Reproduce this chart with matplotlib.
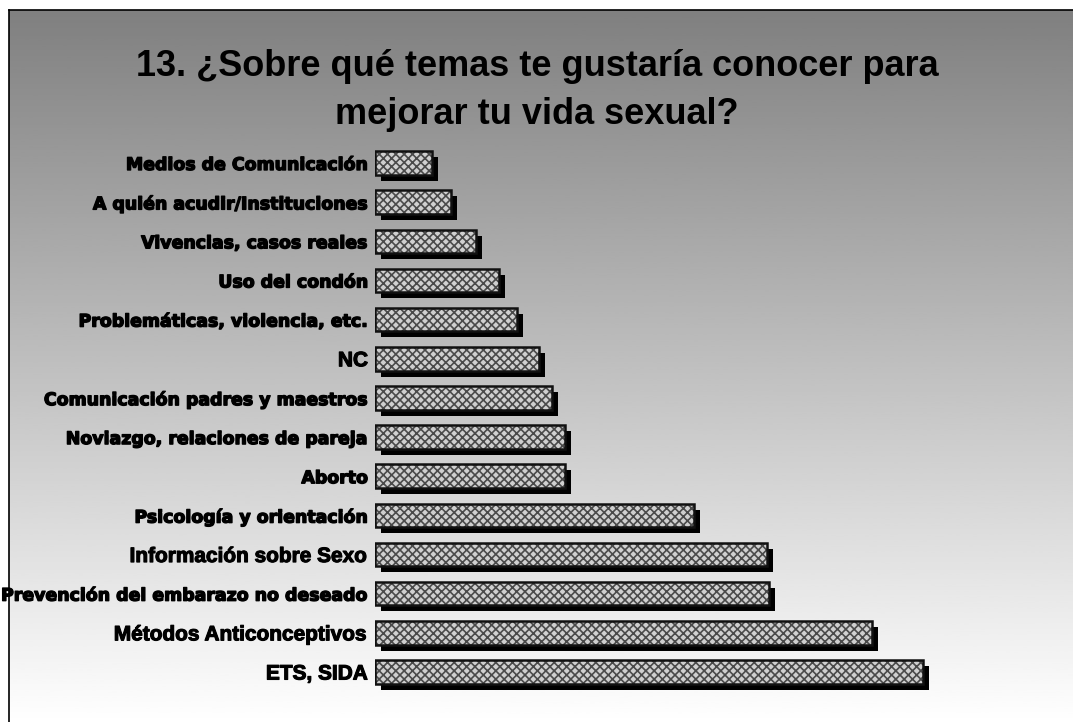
import numpy as np
import matplotlib.pyplot as plt
from matplotlib import patheffects
import matplotlib.transforms as mtransforms

# data (bottom to top), lengths, arbitrary units
temas = ['ETS, SIDA', 'Métodos Anticonceptivos', 'Prevención del embarazo no deseado',
         'Información sobre Sexo', 'Psicología y orientación', 'Aborto',
         'Noviazgo, relaciones de pareja', 'Comunicación padres y maestros', 'NC',
         'Problemáticas, violencia, etc.', 'Uso del condón', 'Vivencias, casos reales',
         'A quién acudir/Instituciones', 'Medios de Comunicación']
valores = [548, 497, 394, 392, 319, 190, 190, 177, 164, 142, 124, 101, 76, 57]
narrow = ['ETS, SIDA', 'Métodos Anticonceptivos', 'Información sobre Sexo', 'NC']

titulo = ['13. ¿Sobre qué temas te gustaría conocer para', 'mejorar tu vida sexual?']

W, H = 1073, 722
fig = plt.figure(figsize=(W / 100, H / 100), dpi=100)
fig.patch.set_facecolor('white')

# gradient background inside the frame
bg = fig.add_axes([9 / W, 0, 1 - 9 / W, 1 - 10 / H])
grad = np.linspace(0.50, 1.0, 256).reshape(-1, 1)
bg.imshow(grad, aspect='auto', cmap='gray', vmin=0, vmax=1, extent=[0, 1, 0, 1], origin='upper')
bg.set_xlim(0, 1)
bg.set_ylim(0, 1)
bg.set_xticks([])
bg.set_yticks([])
for s in ['right', 'bottom']:
    bg.spines[s].set_visible(False)
for s in ['left', 'top']:
    bg.spines[s].set_linewidth(1.2)
    bg.spines[s].set_color('black')

# title, two lines
fig.text(537 / W, 1 - 76 / H, titulo[0], ha='center', va='baseline', fontsize=26,
         fontweight='bold', family='Liberation Sans')
fig.text(537 / W, 1 - 124 / H, titulo[1], ha='center', va='baseline', fontsize=26,
         fontweight='bold', family='Liberation Sans')

spacing = (672 - 163) / 13
bottom = 672 + 0.6 * spacing
ax = fig.add_axes([375 / W, 1 - bottom / H, 620 / W, 14.2 * spacing / H])
ax.patch.set_alpha(0)
ax.set_xlim(0, 620)
ax.set_ylim(-0.6, 13.6)

y = np.arange(len(temas))
plt.rcParams['hatch.linewidth'] = 1.2

# black drop shadow, shifted 6 px right and 6 px down
desplaza = mtransforms.ScaledTranslation(6 / 100, -6 / 100, fig.dpi_scale_trans)
sombra = ax.barh(y, valores, height=0.6, color='black', linewidth=0)
for b in sombra:
    b.set_transform(ax.transData + desplaza)
ax.barh(y, valores, height=0.6, color='#cfcfcf', edgecolor='#4a4a4a', hatch='xxxx', linewidth=0)
ax.barh(y, valores, height=0.6, color='none', edgecolor='#111111', linewidth=1.8)

ax.set_yticks(y)
ax.set_yticklabels(temas)
ax.tick_params(axis='y', length=0, pad=5)
ax.set_xticks([])
for lab in ax.get_yticklabels():
    if lab.get_text() in narrow:
        lab.set_family('Liberation Sans')
        lab.set_fontsize(15)
        lab.set_path_effects([patheffects.Stroke(linewidth=0.8, foreground='black'), patheffects.Normal()])
    else:
        lab.set_family('DejaVu Sans')
        lab.set_fontsize(12.5)
        lab.set_path_effects([patheffects.Stroke(linewidth=1.0, foreground='black'), patheffects.Normal()])
    lab.set_fontweight('bold')
for s in ax.spines.values():
    s.set_visible(False)

fig.savefig('out.png', dpi=100)
